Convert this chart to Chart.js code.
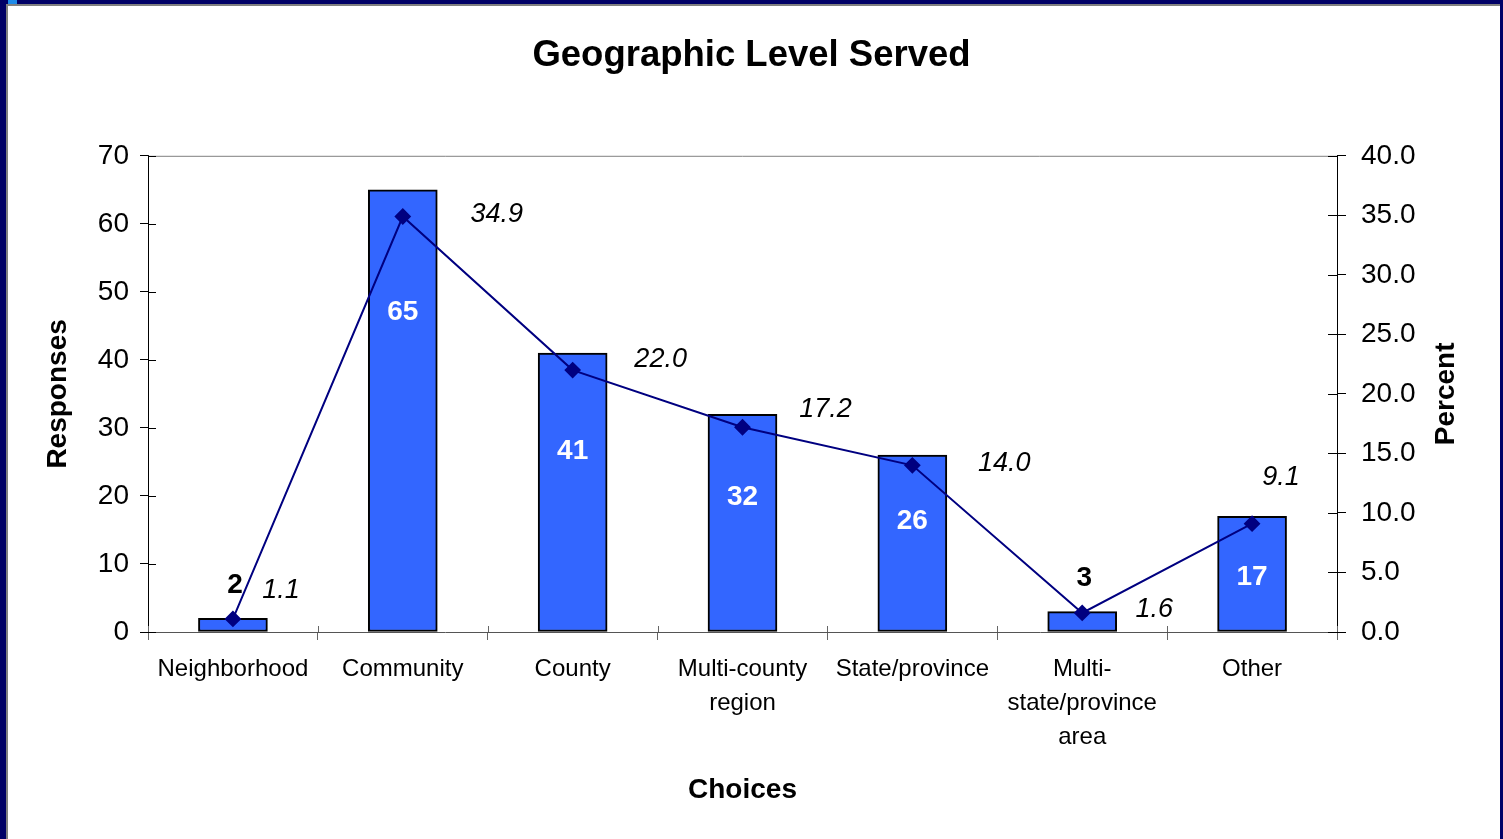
<!DOCTYPE html>
<html>
<head>
<meta charset="utf-8">
<title>Geographic Level Served</title>
<script src="https://cdn.jsdelivr.net/npm/chart.js@4/dist/chart.umd.min.js"></script>
<style>
  html, body { margin: 0; padding: 0; background: #000066; overflow: hidden; }
  canvas { display: block; }
</style>
</head>
<body>
<canvas id="levels" width="1503" height="839"></canvas>
<script>
var categories = ['Neighborhood', 'Community', 'County', ['Multi-county', 'region'],
    'State/province', ['Multi-', 'state/province', 'area'], 'Other'];
var responses = [2, 65, 41, 32, 26, 3, 17];
var percents = [1.1, 34.9, 22.0, 17.2, 14.0, 1.6, 9.1];
var responseTicks = [0, 10, 20, 30, 40, 50, 60, 70];
var percentTicks = [0, 5, 10, 15, 20, 25, 30, 35, 40];

Chart.defaults.font.family = '"Liberation Sans", Arial, sans-serif';
Chart.defaults.color = '#000';

// navy slide frame behind the white chart panel
var frame = {
    id: 'frame',
    beforeDraw: function(chart) {
        var c = chart.ctx, w = chart.width, h = chart.height;
        c.save();
        c.fillStyle = '#000066';
        c.fillRect(0, 0, w, h);
        c.fillStyle = '#1e8ae8';
        c.fillRect(8, 0, 9, 4);
        c.fillStyle = '#808080';
        c.fillRect(6, 4, w - 9, h);
        c.fillStyle = '#fff';
        c.fillRect(8, 6, w - 11, h);
        c.restore();
    }
};

// tick marks that cross the axes, top border and the right axis title
var axisExtras = {
    id: 'axisExtras',
    afterDraw: function(chart) {
        var c = chart.ctx, a = chart.chartArea;
        var y = chart.scales.y, y1 = chart.scales.y1, x = chart.scales.x;
        c.save();
        c.lineWidth = 1;
        c.strokeStyle = '#808080';
        c.beginPath();
        c.moveTo(a.left, a.top + 0.5);
        c.lineTo(a.right, a.top + 0.5);
        c.stroke();

        c.strokeStyle = '#000';
        c.beginPath();
        responseTicks.forEach(function(v) {
            var py = Math.round(y.getPixelForValue(v)) + 0.5;
            c.moveTo(a.left, py);
            c.lineTo(a.left + 8, py);
        });
        percentTicks.forEach(function(v) {
            var py = Math.round(y1.getPixelForValue(v)) + 0.5;
            c.moveTo(a.right - 9, py);
            c.lineTo(a.right, py);
        });
        c.stroke();

        c.strokeStyle = '#666';
        c.beginPath();
        for (var i = 0; i <= categories.length; i++) {
            var px = Math.round(x.getPixelForValue(i - 0.5)) + 0.5;
            c.moveTo(px, a.bottom - 6);
            c.lineTo(px, a.bottom);
        }
        c.stroke();

        c.translate(1446, (a.top + a.bottom) / 2);
        c.rotate(-Math.PI / 2);
        c.fillStyle = '#000';
        c.font = 'bold 28px "Liberation Sans", Arial, sans-serif';
        c.textAlign = 'center';
        c.textBaseline = 'middle';
        c.fillText('Percent', 0, 0);
        c.restore();
    }
};

// value labels for the bars and the percent line
var valueLabels = {
    id: 'valueLabels',
    afterDatasetsDraw: function(chart, args, opts) {
        var c = chart.ctx;
        c.save();
        c.textAlign = 'center';
        c.textBaseline = 'middle';
        c.font = 'bold 28px "Liberation Sans", Arial, sans-serif';
        chart.getDatasetMeta(0).data.forEach(function(bar, i) {
            if (responses[i] >= 10) {
                c.fillStyle = '#fff';
                c.fillText(String(responses[i]), bar.x, bar.y + opts.barDrop[i]);
            } else {
                c.fillStyle = '#000';
                c.fillText(String(responses[i]), bar.x + 2, bar.y - 33);
            }
        });
        c.font = 'italic 27px "Liberation Sans", Arial, sans-serif';
        c.fillStyle = '#000';
        chart.getDatasetMeta(1).data.forEach(function(pt, i) {
            var off = opts.lineShift[i];
            c.fillText(percents[i].toFixed(1), pt.x + off[0], pt.y + off[1]);
        });
        c.restore();
    }
};

var ctx = document.getElementById('levels').getContext('2d');
var chart = new Chart(ctx, {
    type: 'bar',
    data: {
        labels: categories,
        datasets: [{
            label: 'Responses',
            data: responses,
            yAxisID: 'y',
            backgroundColor: '#3366ff',
            borderColor: '#000',
            borderWidth: 2,
            borderSkipped: false,
            barThickness: 69,
            order: 1
        }, {
            type: 'line',
            label: 'Percent',
            data: percents,
            yAxisID: 'y1',
            borderColor: '#000080',
            borderWidth: 2,
            pointStyle: 'rectRot',
            pointRadius: 7,
            pointBackgroundColor: '#000080',
            pointBorderColor: '#000080',
            tension: 0,
            order: 0
        }]
    },
    options: {
        responsive: false,
        animation: false,
        layout: { padding: 0 },
        plugins: {
            legend: { display: false },
            tooltip: { enabled: false },
            title: {
                display: true,
                text: 'Geographic Level Served',
                color: '#000',
                font: { size: 36.5, weight: 'bold' },
                padding: { top: 34, bottom: 78 }
            },
            valueLabels: {
                barDrop: [0, 122, 98, 83, 66, 0, 61],
                lineShift: [[48, -28], [94, -2], [88, -11], [83, -18], [92, -2], [72, -3], [29, -46]]
            }
        },
        scales: {
            x: {
                grid: { display: true, drawOnChartArea: false, offset: true, tickLength: 8, color: '#666' },
                border: { color: '#555' },
                ticks: {
                    color: '#000',
                    font: { size: 24, lineHeight: 1.43 },
                    padding: 12,
                    maxRotation: 0,
                    autoSkip: false
                },
                title: {
                    display: true,
                    text: 'Choices',
                    color: '#000',
                    font: { size: 28, weight: 'bold' },
                    padding: { top: 0, bottom: 32 }
                },
                afterFit: function(s) { s.height = 207; }
            },
            y: {
                position: 'left',
                min: 0,
                max: 70,
                afterBuildTicks: function(s) {
                    s.ticks = responseTicks.map(function(v) { return { value: v }; });
                },
                grid: { drawOnChartArea: false, tickLength: 8, color: '#000' },
                border: { color: '#000' },
                ticks: { color: '#000', font: { size: 28 }, padding: 11 },
                title: {
                    display: true,
                    text: 'Responses',
                    color: '#000',
                    font: { size: 28, weight: 'bold' },
                    padding: { top: 41, bottom: 0 }
                },
                afterFit: function(s) { s.width = 148; }
            },
            y1: {
                position: 'right',
                min: 0,
                max: 40,
                afterBuildTicks: function(s) {
                    s.ticks = percentTicks.map(function(v) { return { value: v }; });
                },
                grid: { drawOnChartArea: false, tickLength: 9, color: '#000' },
                border: { color: '#000' },
                ticks: {
                    color: '#000',
                    font: { size: 28 },
                    padding: 15,
                    callback: function(v) { return Number(v).toFixed(1); }
                },
                afterFit: function(s) { s.width = 166; }
            }
        }
    },
    plugins: [frame, axisExtras, valueLabels]
});
</script>
</body>
</html>
